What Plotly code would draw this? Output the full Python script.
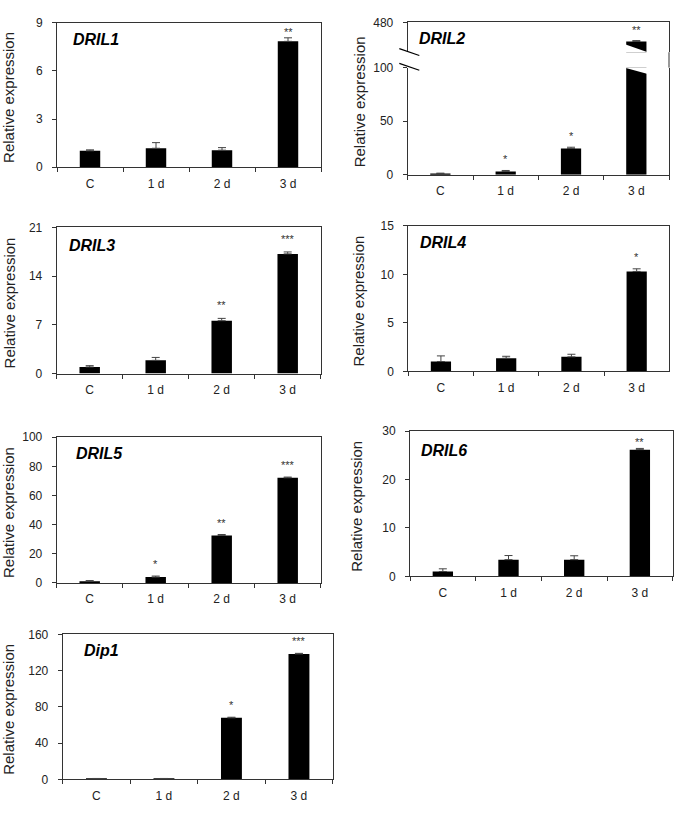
import plotly.graph_objects as go

W, H = 685, 813

categories = ["C", "1 d", "2 d", "3 d"]

dril1 = [1.02, 1.18, 1.06, 7.84]
dril1_err = [0.06, 0.35, 0.16, 0.22]
dril1_sig = ["", "", "", "**"]

dril2 = [1.2, 3.0, 24.5, 416]
dril2_err = [0.3, 1.0, 1.2, 3.0]
dril2_sig = ["", "*", "*", "**"]

dril3 = [0.95, 1.9, 7.6, 17.2]
dril3_err = [0.19, 0.42, 0.33, 0.28]
dril3_sig = ["", "", "**", "***"]

dril4 = [1.01, 1.35, 1.49, 10.3]
dril4_err = [0.58, 0.2, 0.27, 0.27]
dril4_sig = ["", "", "", "*"]

dril5 = [1.0, 4.0, 32.6, 72.1]
dril5_err = [0.6, 0.7, 0.6, 0.5]
dril5_sig = ["", "*", "**", "***"]

dril6 = [1.0, 3.45, 3.45, 26.2]
dril6_err = [0.55, 0.85, 0.8, 0.25]
dril6_sig = ["", "", "", "**"]

dip1 = [0.8, 0.8, 67.9, 138.3]
dip1_err = [0.3, 0.3, 0.7, 0.7]
dip1_sig = ["", "", "*", "***"]

# broken axis of DRIL2
dril2_low_range = [0, 100]
dril2_low_ticks = [0, 50, 100]
dril2_high_range = [380, 480]
dril2_high_ticks = [480]

FONT = "Liberation Sans, Arial, sans-serif"
AX = "#333333"
BAR_W = 0.31


def fx(px):
    return px / W


def fy(py):
    return 1 - py / H


# layout boxes in pixels: (left, right, top, bottom)
panels = [
    dict(id=1, gene="DRIL1", vals=dril1, err=dril1_err, sig=dril1_sig, yrange=[0, 9], dtick=3,
         box=(57, 321, 16, 163), label=(70.5, 33.5), tx=9, sshift=-2),
    dict(id=2, gene="DRIL2", vals=dril2, err=dril2_err, sig=dril2_sig, yrange=dril2_low_range,
         tickvals=dril2_low_ticks, box=(407.7, 669, 61.7, 170.7), label=(417.3, 32.5), tx=359,
         sshift=3, title_y=97),
    dict(id=3, gene="DRIL3", vals=dril3, err=dril3_err, sig=dril3_sig, yrange=[0, 21], dtick=7,
         box=(56.7, 320.7, 224.3, 373), label=(66.7, 242.3), tx=9, sshift=5),
    dict(id=4, gene="DRIL4", vals=dril4, err=dril4_err, sig=dril4_sig, yrange=[0, 15], dtick=5,
         box=(408.3, 669.3, 222.7, 370.7), label=(418.3, 239.5), tx=359, sshift=4),
    dict(id=5, gene="DRIL5", vals=dril5, err=dril5_err, sig=dril5_sig, yrange=[0, 100], dtick=20,
         box=(56.7, 320.7, 437.7, 586), label=(74, 454.3), tx=9, sshift=4),
    dict(id=6, gene="DRIL6", vals=dril6, err=dril6_err, sig=dril6_sig, yrange=[0, 30], dtick=10,
         box=(410, 672.7, 431.7, 579.3), label=(419, 451.7), tx=357, sshift=-2),
    dict(id=7, gene="Dip1", vals=dip1, err=dip1_err, sig=dip1_sig, yrange=[0, 160], dtick=40,
         box=(62.7, 332.7, 638.3, 786), label=(81.7, 654.3), tx=9, sshift=4),
]

fig = go.Figure()
layout = dict(
    width=W, height=H, margin=dict(l=0, r=0, t=0, b=0),
    paper_bgcolor="white", plot_bgcolor="white", showlegend=False,
    font=dict(family=FONT, color="#222222"),
)
annotations = []
shapes = []


def add_bar(xid, vals, err):
    fig.add_trace(go.Bar(
        x=categories, y=vals, width=BAR_W,
        marker=dict(color="black", line=dict(width=0)),
        error_y=dict(type="data", array=err, arrayminus=[0] * len(err), symmetric=False,
                     color="#444444", thickness=1, width=4),
        xaxis=f"x{xid}", yaxis=f"y{xid}", hoverinfo="skip",
    ))


def xaxis_dict(xid, box, mirror=True):
    l, r, t, b = box
    return dict(domain=[fx(l), fx(r)], anchor=f"y{xid}", type="category",
                categoryorder="array", categoryarray=categories, range=[-0.5, 3.5],
                tickson="boundaries", ticks="outside", ticklen=4, tickcolor=AX,
                showline=True, linecolor=AX, linewidth=1, mirror=mirror,
                showgrid=False, zeroline=False, ticklabelstandoff=5,
                tickfont=dict(size=12, color="#222222", family=FONT), fixedrange=True)


def yaxis_dict(xid, box, yrange, dtick=None, tickvals=None):
    l, r, t, b = box
    d = dict(domain=[fy(b), fy(t)], anchor=f"x{xid}", range=yrange,
             ticks="outside", ticklen=4, tickcolor=AX, showline=True, linecolor=AX,
             linewidth=1, mirror=True, showgrid=False, zeroline=False,
             ticklabelstandoff=7, tickfont=dict(size=12, color="#222222", family=FONT),
             fixedrange=True)
    if tickvals is not None:
        d["tickmode"] = "array"
        d["tickvals"] = tickvals
    else:
        d["tick0"] = 0
        d["dtick"] = dtick
    return d


for p in panels:
    i = p["id"]
    add_bar(i, p["vals"], p["err"])
    layout[f"xaxis{i}"] = xaxis_dict(i, p["box"], mirror=(i != 2))
    layout[f"yaxis{i}"] = yaxis_dict(i, p["box"], p["yrange"], p.get("dtick"), p.get("tickvals"))
    l, r, t, b = p["box"]
    annotations.append(dict(text=f"<b><i>{p['gene']}</i></b>", xref="paper", yref="paper",
                            x=fx(p["label"][0]), y=fy(p["label"][1]), xanchor="left",
                            yanchor="middle", showarrow=False,
                            font=dict(size=16, color="black", family=FONT)))
    ty = p.get("title_y", (t + b) / 2 + 3)
    annotations.append(dict(text="Relative expression", xref="paper", yref="paper",
                            x=fx(p["tx"]), y=fy(ty), xanchor="center", yanchor="middle",
                            textangle=-90, showarrow=False,
                            font=dict(size=15, color="#222222", family=FONT)))
    for j, s in enumerate(p["sig"]):
        if not s:
            continue
        top = p["vals"][j] + p["err"][j]
        ref = i
        if i == 2 and top > dril2_low_range[1]:
            ref = 8
        annotations.append(dict(text=s, xref=f"x{ref}", yref=f"y{ref}", x=categories[j],
                                y=top, yanchor="bottom", yshift=p["sshift"], showarrow=False,
                                font=dict(size=11, color="#333333", family=FONT)))

# upper part of DRIL2 broken axis
up_box = (407.7, 669, 15.7, 46)
add_bar(8, dril2, dril2_err)
xa8 = xaxis_dict(8, up_box, mirror=False)
xa8.update(side="top", ticks="", showticklabels=False)
layout["xaxis8"] = xa8
layout["yaxis8"] = yaxis_dict(8, up_box, dril2_high_range, tickvals=dril2_high_ticks)

# diagonal white cuts across the broken 3 d bar of DRIL2
j = 3
bl, br = j - BAR_W / 2 - 0.02, j + BAR_W / 2 + 0.02
top_low = dril2_low_range[1]
low_cut = top_low - 6
shapes.append(dict(type="path", xref="x2", yref="y2", layer="above",
                   path=f"M{bl},{top_low + 2} L{br},{top_low + 2} L{br},{low_cut} L{bl},{top_low} Z",
                   fillcolor="white", line=dict(width=0)))
high_cut = dril2_high_range[0] + 27
bot_high = dril2_high_range[0]
shapes.append(dict(type="path", xref="x8", yref="y8", layer="above",
                   path=f"M{bl},{high_cut} L{bl},{bot_high - 3} L{br},{bot_high - 3} L{br},{bot_high} Z",
                   fillcolor="white", line=dict(width=0)))
# right frame across the break
shapes.append(dict(type="line", xref="paper", yref="paper", x0=fx(669), x1=fx(669),
                   y0=fy(46), y1=fy(61.7), line=dict(color=AX, width=1)))
# break marks on the left axis
for y0 in (42.3, 57.3):
    shapes.append(dict(type="line", xref="paper", yref="paper", x0=fx(399.3), x1=fx(419.3),
                       y0=fy(y0), y1=fy(y0 + 7), line=dict(color="black", width=1.2)))

layout["annotations"] = annotations
layout["shapes"] = shapes
fig.update_layout(**layout)
fig.write_html(
    "out.html",
    config={"displayModeBar": False},
    post_script="document.body.style.margin='0px';document.body.style.overflow='hidden';",
)
